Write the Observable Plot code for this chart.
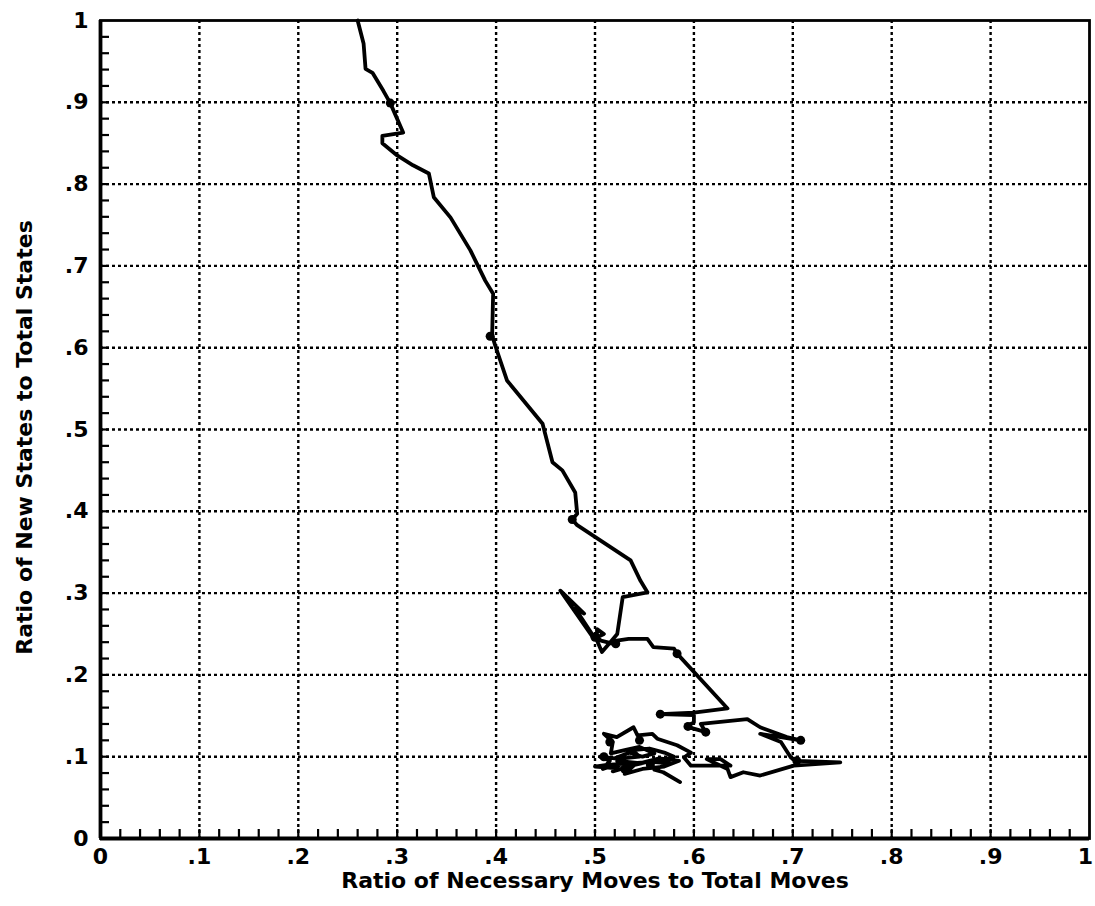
<!DOCTYPE html>
<html>
<head>
<meta charset="utf-8">
<script src="https://cdn.jsdelivr.net/npm/d3@7"></script>
<script src="https://cdn.jsdelivr.net/npm/@observablehq/plot@0.6"></script>
<style>
  html, body { margin: 0; padding: 0; background: #fff; }
  #chart svg { display: block; }
</style>
</head>
<body>
<div id="chart"></div>
<script>
// Trajectory: ratio of necessary moves (x) vs ratio of new states (y)
const pathX = [0.260,0.266,0.268,0.275,0.286,0.293,0.306,0.285,0.285,0.300,0.316,0.332,0.337,0.354,0.374,0.389,0.397,0.396,0.399,0.411,0.447,0.457,0.467,0.480,0.482,0.477,0.482,0.536,0.546,0.553,0.528,0.5225,0.517,0.507,0.502,0.502,0.509,0.499,0.465,0.489,0.480,0.497,0.506,0.519,0.522,0.534,0.553,0.559,0.580,0.583,0.634,0.600,0.566,0.600,0.600,0.592,0.612,0.607,0.654,0.667,0.694,0.708,0.667,0.688,0.698,0.704,0.748,0.701,0.667,0.650,0.637,0.634,0.613,0.627,0.637,0.617,0.597,0.590,0.597,0.583,0.563,0.558,0.543,0.539,0.522,0.509,0.518,0.516,0.530,0.545,0.560,0.548,0.535,0.520,0.505,0.515,0.508,0.525,0.518,0.535,0.528,0.545,0.538,0.555,0.570,0.580,0.562,0.512,0.500,0.520,0.530,0.545,0.565,0.585,0.570,0.548,0.530,0.540,0.555,0.575,0.560,0.569,0.586];
const pathY = [1.000,0.972,0.941,0.936,0.914,0.899,0.863,0.859,0.850,0.835,0.823,0.813,0.784,0.759,0.719,0.682,0.666,0.615,0.603,0.560,0.507,0.460,0.450,0.423,0.397,0.390,0.383,0.340,0.315,0.301,0.295,0.250,0.242,0.228,0.242,0.256,0.250,0.244,0.303,0.275,0.281,0.250,0.242,0.238,0.242,0.244,0.244,0.234,0.232,0.226,0.159,0.154,0.152,0.151,0.142,0.137,0.130,0.140,0.146,0.136,0.124,0.120,0.128,0.118,0.099,0.095,0.093,0.089,0.077,0.081,0.075,0.085,0.097,0.097,0.089,0.089,0.089,0.099,0.105,0.114,0.122,0.128,0.126,0.136,0.124,0.128,0.118,0.104,0.108,0.112,0.104,0.100,0.105,0.098,0.100,0.095,0.085,0.092,0.082,0.088,0.098,0.100,0.108,0.110,0.105,0.100,0.094,0.090,0.088,0.086,0.094,0.092,0.098,0.095,0.088,0.085,0.079,0.090,0.094,0.092,0.084,0.081,0.069];

// Heavier blobs drawn on the trace
const blobX = [0.293,0.394,0.477,0.500,0.521,0.583,0.566,0.612,0.594,0.708,0.704,0.545,0.525,0.509,0.530,0.556,0.515];
const blobY = [0.899,0.614,0.390,0.246,0.238,0.226,0.152,0.130,0.137,0.120,0.095,0.120,0.095,0.100,0.085,0.090,0.118];

const majorTicks = [0,0.1,0.2,0.3,0.4,0.5,0.6,0.7,0.8,0.9,1];
const tickLabels = ["0",".1",".2",".3",".4",".5",".6",".7",".8",".9","1"];
const gridTicks = [0.1,0.2,0.3,0.4,0.5,0.6,0.7,0.8,0.9];
const minorTicks = d3.range(1, 50).map(i => i / 50);

const xTitle = "Ratio of Necessary Moves to Total Moves";
const yTitle = "Ratio of New States to Total States";

const path = pathX.map((x, i) => ({x, y: pathY[i]}));
const blobs = blobX.map((x, i) => ({x, y: blobY[i]}));
const fmt = d => tickLabels[majorTicks.findIndex(t => Math.abs(t - d) < 1e-9)];

const chart = Plot.plot({
  width: 1095,
  height: 906,
  marginLeft: 100,
  marginRight: 6,
  marginTop: 20,
  marginBottom: 68,
  style: {fontFamily: "'DejaVu Sans', 'Liberation Sans', Arial, sans-serif", background: "#fff", color: "#000"},
  x: {domain: [0, 1]},
  y: {domain: [0, 1]},
  marks: [
    Plot.gridX(gridTicks, {stroke: "#000", strokeOpacity: 1, strokeWidth: 2.4, strokeDasharray: "3,3"}),
    Plot.gridY(gridTicks, {stroke: "#000", strokeOpacity: 1, strokeWidth: 2.4, strokeDasharray: "3,3"}),
    Plot.axisX(minorTicks, {tickSize: -9, tickFormat: () => "", strokeWidth: 2.2, label: null}),
    Plot.axisY(minorTicks, {tickSize: -9, tickFormat: () => "", strokeWidth: 2.2, label: null}),
    Plot.axisX(majorTicks.slice(0, -1), {tickSize: 0, tickPadding: 10, tickFormat: fmt, fontSize: 22, fontWeight: "bold", label: null}),
    Plot.axisX([1], {tickSize: 0, tickPadding: 10, tickFormat: fmt, fontSize: 22, fontWeight: "bold", label: null, dx: -4}),
    Plot.axisY(majorTicks, {tickSize: 0, tickPadding: 12, tickFormat: fmt, fontSize: 22, fontWeight: "bold", label: null}),
    Plot.frame({stroke: "#000", strokeWidth: 2.8}),
    Plot.ruleX([0], {stroke: "#000", strokeWidth: 3.8}),
    Plot.ruleY([0], {stroke: "#000", strokeWidth: 3.8}),
    Plot.line(path, {x: "x", y: "y", stroke: "#000", strokeWidth: 3.8, strokeLinejoin: "round", strokeLinecap: "round"}),
    Plot.dot(blobs, {x: "x", y: "y", r: 4.5, fill: "#000"}),
    Plot.text([xTitle], {frameAnchor: "bottom", dy: 49, fontSize: 22, fontWeight: "bold", fill: "#000", text: d => d}),
    Plot.text([yTitle], {frameAnchor: "left", textAnchor: "middle", dx: -76, dy: 8, rotate: -90, fontSize: 22, fontWeight: "bold", fill: "#000", text: d => d})
  ]
});
document.getElementById("chart").appendChild(chart);
</script>
</body>
</html>
